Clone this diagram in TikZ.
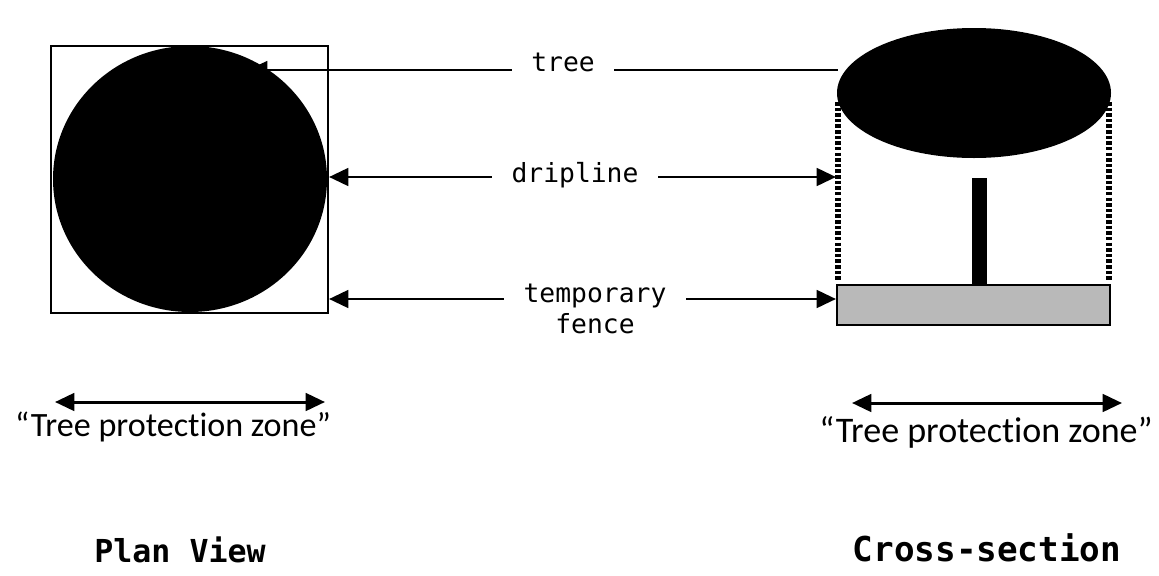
\documentclass[tikz,border=0pt]{standalone}
\usepackage{fontspec}
\setmainfont[Ligatures=NoCommon]{Carlito}
\setmonofont{DejaVu Sans Mono}
\usetikzlibrary{arrows.meta}
\tikzset{
    lbl/.style={font=\ttfamily\fontsize{15}{18}\selectfont, inner xsep=11pt, align=center},
    ptr/.style={line width=1.7pt, -{Triangle[length=11pt,width=10pt]}},
    tpz/.style={line width=1.7pt, {Triangle[length=11pt,width=10pt]}-{Triangle[length=11pt,width=10pt]}},
    zone/.style={font=\fontsize{20.5}{24}\selectfont},
    view/.style={font=\ttfamily\bfseries\fontsize{18}{20}\selectfont}
}

\begin{document}
\begin{tikzpicture}[x=0.02cm,y=-0.02cm]
        \useasboundingbox (0,0) rectangle (1159,575);

        \draw[line width=1.2pt] (51,46) rectangle (328,313);
        \fill (190,179) ellipse [x radius=137, y radius=133];
        \coordinate (crownL) at (248,70);
        \coordinate (dripL) at (329,177);
        \coordinate (fenceL) at (329,299);

        \begin{scope}
            \fill (974,93) ellipse [x radius=137, y radius=65];
            \foreach \x in {838,1109} {
                \draw[line width=3pt, dash pattern=on 2pt off 1.2pt] (\x,102) -- (\x,280);
            }
            \fill (972,178) rectangle (987,285);
            \draw[line width=1.2pt, fill=gray!55] (837,285) rectangle (1110,325);
            \coordinate (crownR) at (838,70);
            \coordinate (dripR) at (836,177);
            \coordinate (fenceR) at (836,299);
        \end{scope}

        \node[lbl] (tree) at (563,62) {tree};
        \node[lbl] (drip) at (575,175) {dripline};
        \node[lbl] (fence) at (595,309) {temporary\\fence};

        \draw[ptr] (tree.west |- crownL) -- (crownL);
        \draw[line width=1.7pt] (tree.east |- crownR) -- (crownR);
        \draw[ptr] (drip.west |- dripL) -- (dripL);
        \draw[ptr] (drip.east |- dripR) -- (dripR);
        \draw[ptr] (fence.west |- fenceL) -- (fenceL);
        \draw[ptr] (fence.east |- fenceR) -- (fenceR);

        \coordinate (tpzA) at (55,402);
        \coordinate (tpzB) at (325,402);
        \coordinate (tpzC) at (852,403);
        \coordinate (tpzD) at (1122,403);
        \draw[tpz] (tpzA) -- (tpzB);
        \draw[tpz] (tpzC) -- (tpzD);
        \node[zone, font=\fontsize{19.4}{22}\selectfont] (zoneL) at (173,427) {“Tree protection zone”};
        \node[zone] (zoneR) at (986,432) {“Tree protection zone”};

        \node[view] (plan) at (180,550) {Plan View};
        \node[view, font=\ttfamily\bfseries\fontsize{19.5}{22}\selectfont] (cross) at (987,548) {Cross-section};
    \end{tikzpicture}
\end{document}
